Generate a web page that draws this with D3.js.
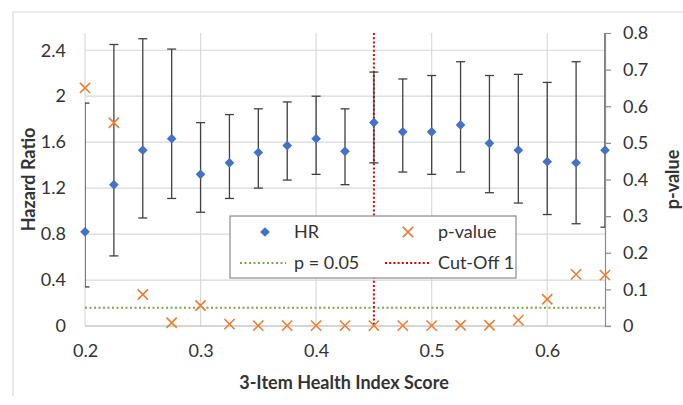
<!DOCTYPE html>
<html lang="en">
<head>
    <meta charset="UTF-8">
    <title>Hazard Ratio and p-value by 3-Item Health Index Score</title>
    <style>
        body {
            margin: 0;
            background-color: #ffffff;
            font-family: Lato, "Open Sans", sans-serif;
        }
        svg text {
            fill: #333333;
        }
    </style>
</head>
<body>
    <svg id="chart"></svg>

    <script src="https://d3js.org/d3.v7.min.js"></script>
    <script>
        // Cut-off scores (x axis)
        const scores = [0.2, 0.225, 0.25, 0.275, 0.3, 0.325, 0.35, 0.375, 0.4, 0.425,
                        0.45, 0.475, 0.5, 0.525, 0.55, 0.575, 0.6, 0.625, 0.65];
        // Hazard ratio with its confidence interval
        const hr     = [0.82, 1.23, 1.53, 1.63, 1.32, 1.42, 1.51, 1.57, 1.63, 1.52,
                        1.77, 1.69, 1.69, 1.75, 1.59, 1.53, 1.43, 1.42, 1.53];
        const hrLow  = [0.34, 0.61, 0.94, 1.11, 0.99, 1.11, 1.20, 1.27, 1.32, 1.23,
                        1.42, 1.34, 1.32, 1.34, 1.16, 1.07, 0.97, 0.89, 0.86];
        const hrHigh = [1.94, 2.45, 2.50, 2.41, 1.77, 1.84, 1.89, 1.95, 2.00, 1.89,
                        2.21, 2.15, 2.18, 2.30, 2.18, 2.19, 2.12, 2.30, 2.72];
        // p-values (right axis)
        const pValues = [0.65, 0.555, 0.086, 0.009, 0.056, 0.005, 0.001, 0.001, 0.001, 0.001,
                         0.001, 0.001, 0.001, 0.002, 0.002, 0.016, 0.073, 0.141, 0.139];

        const xTicks = [0.2, 0.3, 0.4, 0.5, 0.6];
        const leftTicks = [0, 0.4, 0.8, 1.2, 1.6, 2, 2.4];
        const rightTicks = [0, 0.1, 0.2, 0.3, 0.4, 0.5, 0.6, 0.7, 0.8];
        const pThreshold = 0.05;
        const cutOff = 0.45;

        const width = 683;
        const height = 405;
        const margin = { top: 33, right: 78, bottom: 79, left: 85 };
        const innerW = width - margin.left - margin.right;
        const innerH = height - margin.top - margin.bottom;
        const fontSize = '18px';

        const svg = d3.select('#chart')
            .attr('width', width)
            .attr('height', height);

        // Outer chart frame (left and top edges visible)
        svg.append('path')
            .attr('d', `M13,396 L13,12 L${width},12`)
            .attr('fill', 'none')
            .attr('stroke', '#d9d9d9')
            .attr('stroke-width', 1.2);

        const g = svg.append('g')
            .attr('transform', `translate(${margin.left},${margin.top})`);

        // Scales
        const x = d3.scaleLinear().domain([0.2, 0.65]).range([0, innerW]);
        const yL = d3.scaleLinear().domain([0, 2.55]).range([innerH, 0]);
        const yR = d3.scaleLinear().domain([0, 0.8]).range([innerH, 0]);

        g.append('clipPath').attr('id', 'plotClip')
            .append('rect')
            .attr('width', innerW)
            .attr('height', innerH);

        // Gridlines
        g.selectAll('.hgrid')
            .data(leftTicks)
            .enter()
            .append('line')
            .attr('x1', 0)
            .attr('x2', innerW)
            .attr('y1', d => yL(d))
            .attr('y2', d => yL(d))
            .attr('stroke', '#d9d9d9')
            .attr('stroke-width', 1.2);

        g.selectAll('.vgrid')
            .data(xTicks)
            .enter()
            .append('line')
            .attr('x1', d => x(d))
            .attr('x2', d => x(d))
            .attr('y1', 0)
            .attr('y2', innerH)
            .attr('stroke', '#d9d9d9')
            .attr('stroke-width', 1.2);

        // Bottom axis line
        g.append('line')
            .attr('x1', 0)
            .attr('x2', innerW + 6)
            .attr('y1', innerH)
            .attr('y2', innerH)
            .attr('stroke', '#bfbfbf')
            .attr('stroke-width', 1.2);

        // Right axis
        const rightAxis = g.append('g')
            .attr('transform', `translate(${innerW},0)`)
            .call(d3.axisRight(yR)
                .tickValues(rightTicks)
                .tickFormat(d => d === 0 ? '0' : d3.format('.1f')(d))
                .tickSize(6)
                .tickPadding(12));
        rightAxis.select('.domain').attr('stroke', '#8c8c8c').attr('stroke-width', 1.2);
        rightAxis.selectAll('.tick line').attr('stroke', '#8c8c8c').attr('stroke-width', 1.2);
        rightAxis.selectAll('.tick text')
            .style('font-family', 'Lato, sans-serif')
            .style('font-size', fontSize)
            .attr('fill', '#333333');

        // Left axis (labels only)
        const leftAxis = g.append('g')
            .call(d3.axisLeft(yL)
                .tickValues(leftTicks)
                .tickFormat(d => String(d))
                .tickSize(0)
                .tickPadding(19));
        leftAxis.select('.domain').remove();
        leftAxis.selectAll('.tick text')
            .style('font-family', 'Lato, sans-serif')
            .style('font-size', fontSize)
            .attr('fill', '#333333');

        // Bottom axis labels
        const bottomAxis = g.append('g')
            .attr('transform', `translate(0,${innerH})`)
            .call(d3.axisBottom(x)
                .tickValues(xTicks)
                .tickFormat(d3.format('.1f'))
                .tickSize(0)
                .tickPadding(18));
        bottomAxis.select('.domain').remove();
        bottomAxis.selectAll('.tick text')
            .style('font-family', 'Lato, sans-serif')
            .style('font-size', fontSize)
            .attr('fill', '#333333');

        // p = 0.05 reference line
        g.append('line')
            .attr('x1', 0)
            .attr('x2', innerW)
            .attr('y1', yR(pThreshold))
            .attr('y2', yR(pThreshold))
            .attr('stroke', '#70ad47')
            .attr('stroke-width', 2)
            .attr('stroke-dasharray', '2,2.5');

        // Cut-off line
        g.append('line')
            .attr('x1', x(cutOff))
            .attr('x2', x(cutOff))
            .attr('y1', 0)
            .attr('y2', innerH)
            .attr('stroke', '#e00000')
            .attr('stroke-width', 2)
            .attr('stroke-dasharray', '2,2.2');

        const points = scores.map((s, i) => ({
            s, hr: hr[i], lo: hrLow[i], hi: hrHigh[i], p: pValues[i]
        }));

        // Error bars
        const bars = g.append('g')
            .attr('clip-path', 'url(#plotClip)')
            .selectAll('.err')
            .data(points)
            .enter()
            .append('g');

        bars.append('line')
            .attr('x1', d => x(d.s))
            .attr('x2', d => x(d.s))
            .attr('y1', d => yL(d.lo))
            .attr('y2', d => yL(d.hi))
            .attr('stroke', '#404040')
            .attr('stroke-width', 1.3);

        ['lo', 'hi'].forEach(k => {
            bars.append('line')
                .attr('x1', d => x(d.s) - 4.5)
                .attr('x2', d => x(d.s) + 4.5)
                .attr('y1', d => yL(d[k]))
                .attr('y2', d => yL(d[k]))
                .attr('stroke', '#404040')
                .attr('stroke-width', 1.3);
        });

        // HR markers (diamonds)
        const diamond = d3.symbol().type(d3.symbolDiamond2).size(60);
        g.selectAll('.hr')
            .data(points)
            .enter()
            .append('path')
            .attr('transform', d => `translate(${x(d.s)},${yL(d.hr)})`)
            .attr('d', diamond)
            .attr('fill', '#4472c4');

        // p-value markers (crosses)
        const cross = d3.symbol().type(d3.symbolX).size(70);
        g.selectAll('.pv')
            .data(points)
            .enter()
            .append('path')
            .attr('transform', d => `translate(${x(d.s)},${yR(d.p)})`)
            .attr('d', cross)
            .attr('fill', 'none')
            .attr('stroke', '#ed7d31')
            .attr('stroke-width', 1.6);

        // Axis titles
        svg.append('text')
            .attr('x', 344)
            .attr('y', 389)
            .attr('text-anchor', 'middle')
            .style('font-size', fontSize)
            .style('font-weight', 'bold')
            .text('3-Item Health Index Score');

        svg.append('text')
            .attr('transform', `translate(35,${margin.top + innerH / 2}) rotate(-90)`)
            .attr('text-anchor', 'middle')
            .style('font-size', fontSize)
            .style('font-weight', 'bold')
            .text('Hazard Ratio');

        svg.append('text')
            .attr('transform', `translate(679,${margin.top + innerH / 2}) rotate(-90)`)
            .attr('text-anchor', 'middle')
            .style('font-size', fontSize)
            .style('font-weight', 'bold')
            .text('p-value');

        // Legend
        const legend = svg.append('g').attr('transform', 'translate(230,216)');
        legend.append('rect')
            .attr('width', 286)
            .attr('height', 62)
            .attr('fill', '#ffffff')
            .attr('stroke', '#8c8c8c')
            .attr('stroke-width', 1.2);

        legend.append('path')
            .attr('transform', 'translate(35,16)')
            .attr('d', diamond)
            .attr('fill', '#4472c4');
        legend.append('path')
            .attr('transform', 'translate(178,16)')
            .attr('d', cross)
            .attr('fill', 'none')
            .attr('stroke', '#ed7d31')
            .attr('stroke-width', 1.6);
        legend.append('line')
            .attr('x1', 10).attr('x2', 56)
            .attr('y1', 47).attr('y2', 47)
            .attr('stroke', '#70ad47')
            .attr('stroke-width', 2)
            .attr('stroke-dasharray', '2,2.5');
        legend.append('line')
            .attr('x1', 155).attr('x2', 201)
            .attr('y1', 47).attr('y2', 47)
            .attr('stroke', '#e00000')
            .attr('stroke-width', 2)
            .attr('stroke-dasharray', '2,2.2');

        const legendLabels = [
            { text: 'HR', x: 64, y: 16 },
            { text: 'p-value', x: 208, y: 16 },
            { text: 'p = 0.05', x: 64, y: 47 },
            { text: 'Cut-Off 1', x: 208, y: 47 }
        ];
        legend.selectAll('.lbl')
            .data(legendLabels)
            .enter()
            .append('text')
            .attr('x', d => d.x)
            .attr('y', d => d.y)
            .attr('dy', '0.36em')
            .style('font-size', fontSize)
            .text(d => d.text);
    </script>
</body>
</html>
